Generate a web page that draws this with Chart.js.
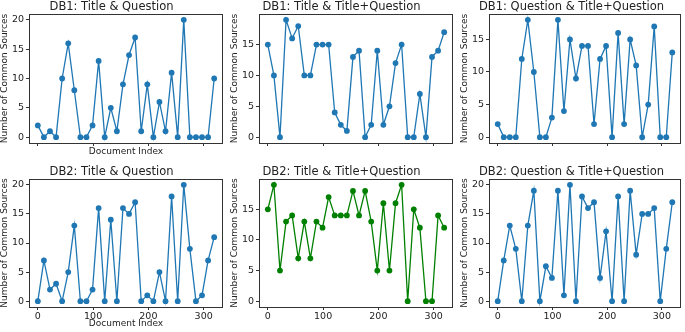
<!DOCTYPE html>
<html>
<head>
<meta charset="utf-8">
<script src="https://cdn.jsdelivr.net/npm/chart.js@4"></script>
<style>
  html, body { margin: 0; padding: 0; background: #fff; }
  #wrap { position: relative; width: 685px; height: 332px; overflow: hidden; }
  #wrap canvas { position: absolute; }
</style>
</head>
<body>
<div id="wrap"></div>
<script>
// Document index of each sampled point (x axis)
const docIndex = [0, 11, 22, 33, 44, 55, 66, 77, 88, 99, 110, 121, 132, 143, 154,
  165, 176, 187, 198, 209, 220, 231, 242, 253, 264, 275, 286, 297, 308, 319];

// Number of common sources per comparison
const db1TitleQuestion = [2, 0, 1, 0, 10, 16, 8, 0, 0, 2, 13, 0, 5, 1, 9,
  14, 17, 1, 9, 0, 6, 1, 11, 0, 20, 0, 0, 0, 0, 10];
const db1TitleTitleQuestion = [15, 10, 0, 19, 16, 18, 10, 10, 15, 15, 15, 4, 2, 1, 13,
  14, 0, 2, 14, 2, 5, 12, 15, 0, 0, 7, 0, 13, 14, 17];
const db1QuestionTitleQuestion = [2, 0, 0, 0, 12, 18, 10, 0, 0, 3, 18, 4, 15, 9, 14,
  14, 2, 12, 14, 0, 16, 2, 15, 11, 0, 5, 17, 0, 0, 13];
const db2TitleQuestion = [0, 7, 2, 3, 0, 5, 13, 0, 0, 2, 16, 0, 14, 0, 16,
  15, 17, 0, 1, 0, 5, 0, 18, 0, 20, 9, 0, 1, 7, 11];
const db2TitleTitleQuestion = [15, 19, 5, 13, 14, 7, 13, 7, 13, 12, 17, 14, 14, 14, 18,
  14, 18, 13, 5, 16, 5, 16, 19, 0, 15, 12, 0, 0, 14, 12];
const db2QuestionTitleQuestion = [0, 7, 13, 9, 0, 13, 19, 0, 6, 4, 19, 1, 20, 0, 18,
  16, 17, 4, 12, 0, 18, 0, 19, 8, 15, 15, 16, 0, 9, 17];

const panelTitles = [
  'DB1: Title & Question', 'DB1: Title & Title+Question', 'DB1: Question & Title+Question',
  'DB2: Title & Question', 'DB2: Title & Title+Question', 'DB2: Question & Title+Question'
];
const xTicks = [0, 100, 200, 300];
const yTicks = [0, 5, 10, 15, 20];

const BLUE = '#1f77b4';
const GREEN = '#008000';
const FONT = "'DejaVu Sans', sans-serif";
const TEXT = '#222';

// frame on all four sides like matplotlib spines
const framePlugin = {
  id: 'frame',
  afterDraw(chart) {
    const { ctx, chartArea: a } = chart;
    ctx.save();
    ctx.strokeStyle = '#333';
    ctx.lineWidth = 1;
    ctx.strokeRect(Math.round(a.left) + 0.5, Math.round(a.top) + 0.5,
      Math.round(a.width) - 1, Math.round(a.height));
    ctx.restore();
  }
};

const panels = [
  { series: db1TitleQuestion, color: BLUE, left: 0, top: 0, w: 228, h: 163, xh: 20, labels: false, xTitle: true },
  { series: db1TitleTitleQuestion, color: BLUE, left: 230, top: 0, w: 228, h: 163, xh: 20, labels: false, xTitle: false },
  { series: db1QuestionTitleQuestion, color: BLUE, left: 460, top: 0, w: 225, h: 163, xh: 20, labels: false, xTitle: false },
  { series: db2TitleQuestion, color: BLUE, left: 0, top: 165, w: 228, h: 167, xh: 25, labels: true, xTitle: true },
  { series: db2TitleTitleQuestion, color: GREEN, left: 230, top: 165, w: 228, h: 167, xh: 25, labels: true, xTitle: false },
  { series: db2QuestionTitleQuestion, color: BLUE, left: 460, top: 165, w: 225, h: 167, xh: 25, labels: true, xTitle: false },
];

const wrap = document.getElementById('wrap');

panels.forEach((p, i) => {
  const canvas = document.createElement('canvas');
  canvas.width = p.w;
  canvas.height = p.h;
  canvas.style.left = p.left + 'px';
  canvas.style.top = p.top + 'px';
  canvas.style.width = p.w + 'px';
  canvas.style.height = p.h + 'px';
  wrap.appendChild(canvas);

  // matplotlib-style 5% margins
  const yMax = Math.max(...p.series);
  const yPad = yMax * 0.05;
  const xMin = docIndex[0], xMax = docIndex[docIndex.length - 1];
  const xPad = (xMax - xMin) * 0.05;

  new Chart(canvas, {
    type: 'line',
    data: {
      datasets: [{
        data: docIndex.map((x, k) => ({ x: x, y: p.series[k] })),
        borderColor: p.color,
        backgroundColor: p.color,
        pointBackgroundColor: p.color,
        pointBorderWidth: 0,
        pointRadius: 2.9,
        borderWidth: 1.3,
        tension: 0,
        fill: false,
      }]
    },
    options: {
      responsive: false,
      animation: false,
      devicePixelRatio: 1,
      layout: { padding: { left: 0, right: p.w - 29 - 194, top: 0, bottom: 0 } },
      plugins: {
        legend: { display: false },
        tooltip: { enabled: false },
        title: {
          display: true,
          text: panelTitles[i],
          color: TEXT,
          font: { family: FONT, size: 11.5, weight: 'normal', lineHeight: 1 },
          padding: { top: 1, bottom: 1.5 },
        },
      },
      scales: {
        x: {
          type: 'linear',
          min: xMin - xPad,
          max: xMax + xPad,
          afterBuildTicks(scale) { scale.ticks = xTicks.map(v => ({ value: v })); },
          afterFit(scale) { scale.height = p.xh; },
          ticks: {
            color: TEXT,
            font: { family: FONT, size: 9.5 },
            padding: 1,
            maxRotation: 0,
            callback: v => p.labels ? String(v) : '',
          },
          grid: { display: true, drawOnChartArea: false, drawTicks: true, tickLength: 3, color: '#333' },
          border: { display: false },
          title: {
            display: p.xTitle,
            text: 'Document Index',
            color: TEXT,
            font: { family: FONT, size: 9, lineHeight: 1.1 },
            padding: { top: 0, bottom: p.labels ? 3 : 6 },
          },
        },
        y: {
          type: 'linear',
          min: -yPad,
          max: yMax + yPad,
          afterBuildTicks(scale) {
            scale.ticks = yTicks.filter(v => v <= scale.max).map(v => ({ value: v }));
          },
          afterFit(scale) { scale.width = 29; },
          ticks: {
            color: TEXT,
            font: { family: FONT, size: 9.5 },
            padding: 2,
          },
          grid: { display: true, drawOnChartArea: false, drawTicks: true, tickLength: 3, color: '#333' },
          border: { display: false },
          title: {
            display: true,
            text: 'Number of Common Sources',
            color: TEXT,
            font: { family: FONT, size: 9, lineHeight: 1.1 },
            padding: { top: 0, bottom: 0 },
          },
        },
      },
    },
    plugins: [framePlugin],
  });
});
</script>
</body>
</html>
